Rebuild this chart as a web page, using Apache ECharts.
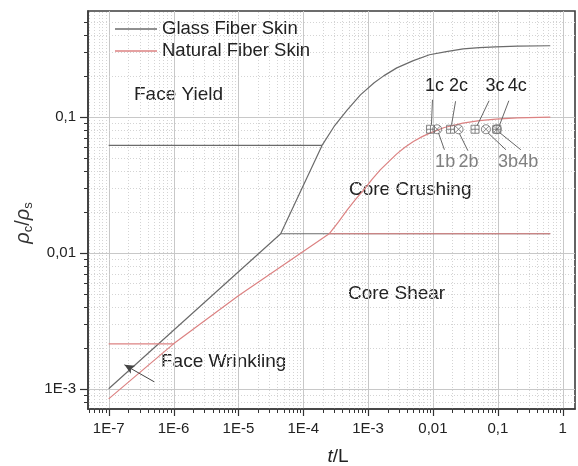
<!DOCTYPE html>
<html>
<head>
<meta charset="utf-8">
<script src="https://cdn.jsdelivr.net/npm/echarts@6/dist/echarts.min.js"></script>
<style>html,body{margin:0;padding:0;background:#fff}#c{width:578px;height:466px}</style>
</head>
<body>
<div id="c"></div>
<script>
// ---- data ----
const xTickExps   = [-7, -6, -5, -4, -3, -2, -1, 0];
const xTickLabels = ['1E-7', '1E-6', '1E-5', '1E-4', '1E-3', '0,01', '0,1', '1'];
const yTickExps   = [-3, -2, -1];
const yTickLabels = ['1E-3', '0,01', '0,1'];

// Glass fiber skin
const glassStraightX = [1e-7, 4.49e-5, 1.95e-4];
const glassStraightY = [1.0e-3, 0.0138, 0.0616];
const glassCurveX = [1.95e-4, 2.99e-4, 4.78e-4, 7.62e-4, 1.24e-3, 1.74e-3, 2.77e-3, 4.99e-3, 8.85e-3, 1.61e-2, 2.92e-2, 5.2e-2, 9.3e-2, 0.2, 0.644];
const glassCurveY = [0.0616, 0.0849, 0.1125, 0.145, 0.178, 0.200, 0.229, 0.259, 0.286, 0.302, 0.316, 0.323, 0.327, 0.331, 0.333];
const glassYieldX = [1e-7, 1.95e-4];
const glassYieldY = [0.0616, 0.0616];
const glassShearX = [4.49e-5, 0.644];
const glassShearY = [0.0138, 0.0138];

// Natural fiber skin
const natStraightX = [1e-7, 1e-6, 1e-5, 2.51e-4];
const natStraightY = [8.43e-4, 0.00214, 0.00483, 0.0138];
const natCurveX = [2.51e-4, 3.5e-4, 4.77e-4, 6.4e-4, 8.59e-4, 1.15e-3, 1.54e-3, 2.1e-3, 2.77e-3, 3.7e-3, 4.99e-3, 6.7e-3, 8.93e-3, 1.5e-2, 2.89e-2, 5.2e-2, 9.35e-2, 0.2, 0.645];
const natCurveY = [0.0138, 0.0169, 0.0207, 0.0247, 0.0290, 0.0347, 0.0407, 0.0470, 0.0534, 0.0598, 0.0658, 0.0712, 0.0759, 0.0835, 0.0899, 0.0937, 0.0962, 0.0982, 0.0995];
const natWrinkleX = [1e-7, 1e-6];
const natWrinkleY = [0.00214, 0.00214];
const natShearX = [2.51e-4, 0.645];
const natShearY = [0.0138, 0.0138];

// Specimen markers
const cLabels = ['1c', '2c', '3c', '4c'];
const cX = [0.00916, 0.0187, 0.0446, 0.0966];
const cY = [0.081, 0.081, 0.081, 0.081];
const bLabels = ['1b', '2b', '3b', '4b'];
const bX = [0.0116, 0.0248, 0.0656, 0.0966];
const bY = [0.081, 0.081, 0.081, 0.081];

// ---- layout / style ----
const X_MIN = 4.8e-8, X_MAX = 1.55, Y_MIN = 7.1e-4, Y_MAX = 0.6;
const FONT = '"Liberation Sans", Arial, sans-serif';
const GRAY = '#6b6b6b', RED = '#dc8282';

const zip = (xs, ys) => xs.map((x, i) => [x, ys[i]]);

function logValues(lo, hi, mults) {
  const out = [];
  for (let e = Math.floor(Math.log10(lo)); e <= Math.ceil(Math.log10(hi)); e++) {
    for (const m of mults) {
      const v = m * Math.pow(10, e);
      if (v > lo * 1.0001 && v < hi * 0.9999) out.push(v);
    }
  }
  return out;
}
const xMinor = logValues(X_MIN, X_MAX, [2, 3, 4, 5, 6, 7, 8, 9]);
const xMajor = logValues(X_MIN, X_MAX, [1]);
const yMinor = logValues(Y_MIN, Y_MAX, [2, 3, 4, 5, 6, 7, 8, 9]);
const yMajor = logValues(Y_MIN, Y_MAX, [1]);

function labelFor(exps, labels) {
  return function (v) {
    const e = Math.log10(v), r = Math.round(e);
    if (Math.abs(e - r) > 1e-6) return '';
    const i = exps.indexOf(r);
    return i >= 0 ? labels[i] : '';
  };
}

// label offsets (px, relative to marker centre) and leader lines
const cLabelOff = [[4, -43], [8, -43], [20, -43], [20.5, -43]];
const cLead = [[1, -4.5, 2, -29.5], [1, -4.5, 5, -28], [2, -3.5, 14, -28.5], [2.5, -3.5, 12, -28.5]];
const bLabelOff = [[8, 32.5], [10, 32.5], [22, 32.5], [31.5, 32.5]];
const bLead = [[1.3, 3.5, 7.3, 20.5], [1, 4.5, 9.4, 21.5], [2, 3.5, 20, 20.5], [3, 3.5, 24, 20.5]];

function annotSeries(xs, ys, labels, offs, leads, color) {
  return {
    type: 'custom', silent: true, z: 5,
    data: zip(xs, ys),
    renderItem: function (params, api) {
      const p = api.coord([api.value(0), api.value(1)]);
      const i = params.dataIndex;
      const o = offs[i], l = leads[i];
      return {
        type: 'group',
        children: [
          { type: 'line', shape: { x1: p[0] + l[0], y1: p[1] + l[1], x2: p[0] + l[2], y2: p[1] + l[3] },
            style: { stroke: '#666', lineWidth: 1 } },
          { type: 'text', x: p[0] + o[0], y: p[1] + o[1],
            style: { text: labels[i], fill: color, fontSize: 18, fontFamily: FONT,
                     align: 'center', verticalAlign: 'middle', textAlign: 'center', textVerticalAlign: 'middle' } }
        ]
      };
    }
  };
}

const gridSeries = {
  type: 'custom', silent: true, z: 0,
  data: [[1e-3, 1e-2]],
  renderItem: function (params, api) {
    const ch = [];
    const bl = api.coord([X_MIN, Y_MIN]);
    const tr = api.coord([X_MAX, Y_MAX]);
    const x0 = bl[0], y0 = bl[1], x1 = tr[0], y1 = tr[1];
    const px = v => Math.round(api.coord([v, Y_MIN])[0]) + 0.5;
    const py = v => Math.round(api.coord([X_MIN, v])[1]) + 0.5;
    xMinor.forEach(v => {
      const x = px(v);
      ch.push({ type: 'line', shape: { x1: x, y1: y0, x2: x, y2: y1 }, style: { stroke: '#d4d4d4', lineWidth: 1, lineDash: [1, 2] } });
      ch.push({ type: 'line', shape: { x1: x, y1: y0, x2: x, y2: y0 + 4 }, style: { stroke: '#333', lineWidth: 1 } });
    });
    xMajor.forEach(v => {
      const x = px(v);
      ch.push({ type: 'line', shape: { x1: x, y1: y0, x2: x, y2: y1 }, style: { stroke: '#c8c8c8', lineWidth: 1 } });
      ch.push({ type: 'line', shape: { x1: x, y1: y0, x2: x, y2: y0 + 7 }, style: { stroke: '#333', lineWidth: 1.2 } });
    });
    yMinor.forEach(v => {
      const y = py(v);
      ch.push({ type: 'line', shape: { x1: x0, y1: y, x2: x1, y2: y }, style: { stroke: '#d4d4d4', lineWidth: 1, lineDash: [1, 2] } });
      ch.push({ type: 'line', shape: { x1: x0 - 4, y1: y, x2: x0, y2: y }, style: { stroke: '#333', lineWidth: 1 } });
    });
    yMajor.forEach(v => {
      const y = py(v);
      ch.push({ type: 'line', shape: { x1: x0, y1: y, x2: x1, y2: y }, style: { stroke: '#c8c8c8', lineWidth: 1 } });
      ch.push({ type: 'line', shape: { x1: x0 - 8, y1: y, x2: x0, y2: y }, style: { stroke: '#333', lineWidth: 1.2 } });
    });
    return { type: 'group', children: ch };
  }
};

function lineSeries(name, xs, ys, color, extra) {
  return Object.assign({
    name: name, type: 'line', data: zip(xs, ys), color: color,
    showSymbol: false, symbol: 'none', smooth: false,
    lineStyle: { color: color, width: 1.2 }, z: 3, silent: true
  }, extra || {});
}

const SQ_PLUS = 'path://M0,0 L10,0 L10,10 L0,10 Z M5,0 L5,10 M0,5 L10,5';
const CIRC_X = 'path://M0,5 A5,5 0 1 1 10,5 A5,5 0 1 1 0,5 Z M1.46,1.46 L8.54,8.54 M8.54,1.46 L1.46,8.54';

const option = {
  animation: false,
  backgroundColor: '#fff',
  textStyle: { fontFamily: FONT },
  grid: { left: 88, top: 11, width: 492, height: 398, show: true, borderColor: '#3d3d3d', borderWidth: 1.6, backgroundColor: 'transparent' },
  legend: {
    orient: 'vertical', left: 115, top: 18, padding: 0, itemGap: 0,
    itemWidth: 42, itemHeight: 1.5, selectedMode: false,
    textStyle: { fontSize: 18.5, color: '#222', lineHeight: 22, fontFamily: FONT },
    data: [{ name: 'Glass Fiber Skin', icon: 'rect' }, { name: 'Natural Fiber Skin', icon: 'rect' }]
  },
  xAxis: {
    type: 'log', logBase: 10, min: X_MIN, max: X_MAX,
    axisLine: { show: true, lineStyle: { color: '#3d3d3d', width: 1.6 } },
    axisTick: { show: false }, splitLine: { show: false }, minorTick: { show: false },
    axisLabel: { formatter: labelFor(xTickExps, xTickLabels), fontSize: 15, color: '#222', margin: 12, fontFamily: FONT }
  },
  yAxis: {
    type: 'log', logBase: 10, min: Y_MIN, max: Y_MAX,
    axisLine: { show: true, lineStyle: { color: '#3d3d3d', width: 1.6 } },
    axisTick: { show: false }, splitLine: { show: false }, minorTick: { show: false },
    axisLabel: { formatter: labelFor(yTickExps, yTickLabels), fontSize: 15, color: '#222', margin: 12, fontFamily: FONT }
  },
  graphic: [
    { type: 'text', x: 134, y: 95, silent: true, style: { text: 'Face Yield', fontSize: 19, fontFamily: FONT, fill: '#222', align: 'left', verticalAlign: 'middle', textAlign: 'left', textVerticalAlign: 'middle' } },
    { type: 'text', x: 349, y: 190, silent: true, style: { text: 'Core Crushing', fontSize: 19, fontFamily: FONT, fill: '#222', align: 'left', verticalAlign: 'middle', textAlign: 'left', textVerticalAlign: 'middle' } },
    { type: 'text', x: 348, y: 294, silent: true, style: { text: 'Core Shear', fontSize: 19, fontFamily: FONT, fill: '#222', align: 'left', verticalAlign: 'middle', textAlign: 'left', textVerticalAlign: 'middle' } },
    { type: 'text', x: 161, y: 362, silent: true, style: { text: 'Face Wrinkling', fontSize: 19, fontFamily: FONT, fill: '#222', align: 'left', verticalAlign: 'middle', textAlign: 'left', textVerticalAlign: 'middle' } },
    { type: 'text', x: 338, y: 457, silent: true, style: {
        text: '{i|t}{n|/L}', fill: '#222', align: 'center', verticalAlign: 'middle', textAlign: 'center', textVerticalAlign: 'middle',
        rich: { i: { fontSize: 19, fontStyle: 'italic', fontFamily: FONT, fill: '#222' }, n: { fontSize: 19, fontFamily: FONT, fill: '#222' } } } },
    { type: 'text', x: 23, y: 223, rotation: Math.PI / 2, silent: true, style: {
        text: '{r|ρ}{s|c}{n|/}{r|ρ}{s|s}', fill: '#222', align: 'center', verticalAlign: 'middle', textAlign: 'center', textVerticalAlign: 'middle',
        rich: {
          r: { fontSize: 20, fontStyle: 'italic', fontFamily: FONT, fill: '#333', lineHeight: 24 },
          n: { fontSize: 20, fontFamily: FONT, fill: '#333', lineHeight: 24 },
          s: { fontSize: 13, fontFamily: FONT, fill: '#333', lineHeight: 14, verticalAlign: 'bottom' }
        } } }
  ],
  series: [
    gridSeries,
    lineSeries('Glass Fiber Skin', glassYieldX, glassYieldY, GRAY),
    lineSeries('Glass Fiber Skin', glassShearX, glassShearY, GRAY),
    lineSeries('Glass Fiber Skin', glassStraightX, glassStraightY, GRAY),
    lineSeries('Glass Fiber Skin', glassCurveX, glassCurveY, GRAY),
    lineSeries('Natural Fiber Skin', natWrinkleX, natWrinkleY, RED),
    lineSeries('Natural Fiber Skin', natShearX, natShearY, RED),
    lineSeries('Natural Fiber Skin', natCurveX, natCurveY, RED),
    lineSeries('Natural Fiber Skin', natStraightX, natStraightY, RED, {
      markLine: {
        silent: true, symbol: ['none', 'arrow'], symbolSize: [7, 10], precision: 10,
        label: { show: false },
        lineStyle: { color: '#444', type: 'solid', width: 1 },
        data: [[{ coord: [5.04e-7, 0.001125] }, { coord: [1.75e-7, 0.0015] }]]
      }
    }),
    {
      name: 'c', type: 'scatter', data: zip(cX, cY), symbol: SQ_PLUS, symbolSize: 8, z: 4, silent: true,
      itemStyle: { color: 'rgba(0,0,0,0)', borderColor: '#6a6a6a', borderWidth: 1 }
    },
    {
      name: 'b', type: 'scatter', data: zip(bX, bY), symbol: CIRC_X, symbolSize: 9, z: 4, silent: true,
      itemStyle: { color: 'rgba(0,0,0,0)', borderColor: '#6a6a6a', borderWidth: 1 }
    },
    annotSeries(cX, cY, cLabels, cLabelOff, cLead, '#222'),
    annotSeries(bX, bY, bLabels, bLabelOff, bLead, '#808080')
  ]
};

const chart = echarts.init(document.getElementById('c'), null, { renderer: 'canvas' });
chart.setOption(option);
</script>
</body>
</html>
